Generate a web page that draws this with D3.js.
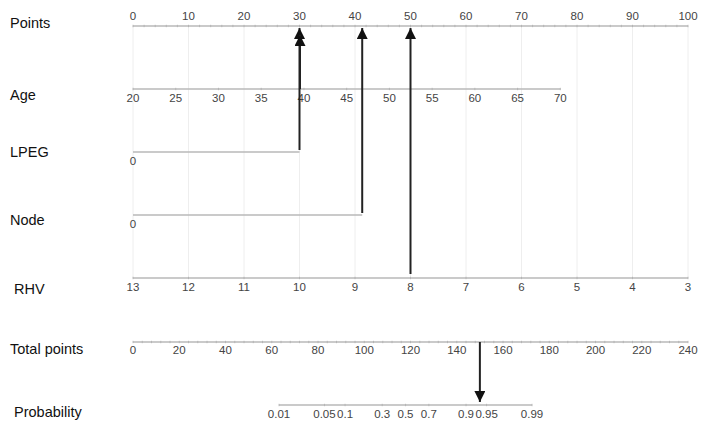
<!DOCTYPE html>
<html><head><meta charset="utf-8">
<script src="https://cdn.jsdelivr.net/npm/d3@7"></script>
<style>body{margin:0;background:#fff}svg{display:block}text{font-family:"Liberation Sans",Arial,sans-serif}</style>
</head><body><svg id="c" width="708" height="429"></svg>
<script>
// ---- data ----
const rowLabels = ["Points","Age","LPEG","Node","RHV","Total points","Probability"];
const pointsTicks = [0,10,20,30,40,50,60,70,80,90,100];
const ageTicks = [20,25,30,35,40,45,50,55,60,65,70];
const ageDomain = [20,70];
const agePointsRange = [0,77];
const lpegDomain = [0,1];
const lpegPointsRange = [0,30];
const lpegLabels = [0];
const nodeDomain = [0,1];
const nodePointsRange = [0,41.3];
const nodeLabels = [0];
const rhvTicks = [13,12,11,10,9,8,7,6,5,4,3];
const rhvDomain = [13,3];
const rhvPointsRange = [0,100];
const totalTicks = [0,20,40,60,80,100,120,140,160,180,200,220,240];
const probTicks = [0.01,0.05,0.1,0.3,0.5,0.7,0.9,0.95,0.99];
const probLabels = ["0.01","0.05","0.1","0.3","0.5","0.7","0.9","0.95","0.99"];
const logitIntercept = -9.9;   // logit(p) = a + b * totalPoints
const logitSlope = 0.084;
// example patient
const patientAge = 40, patientLPEG = 1, patientNode = 1, patientRHV = 8;
const patientTotal = 150;

// ---- layout ----
const svg = d3.select("#c");
const x = d3.scaleLinear().domain([0,100]).range([133,688]);
const ageX = d3.scaleLinear().domain(ageDomain).range(agePointsRange.map(x));
const lpegX = d3.scaleLinear().domain(lpegDomain).range(lpegPointsRange.map(x));
const nodeX = d3.scaleLinear().domain(nodeDomain).range(nodePointsRange.map(x));
const rhvX = d3.scaleLinear().domain(rhvDomain).range(rhvPointsRange.map(x));
const totX = d3.scaleLinear().domain([0,240]).range([133,688]);
const probX = p => totX((Math.log(p/(1-p)) - logitIntercept)/logitSlope);

const rowY = {Points:26, Age:89, LPEG:152, Node:215, RHV:278, Total:342, Prob:405};
const labelY = [24,96,153,221,290,350,413];
const labelX = [10,10,10,10,14,10,14];
const axisCol = "#b8b8b8", tickTextCol = "#444";

// gridlines
svg.append("g").selectAll("line").data(pointsTicks).join("line")
  .attr("x1",d=>x(d)).attr("x2",d=>x(d)).attr("y1",rowY.Points).attr("y2",rowY.RHV)
  .attr("stroke","#eeeeee").attr("stroke-width",1);

// row labels
svg.append("g").selectAll("text").data(rowLabels).join("text")
  .attr("x",(d,i)=>labelX[i]).attr("y",(d,i)=>labelY[i]).attr("dominant-baseline","middle")
  .attr("font-size",14.5).attr("fill","#111").text(d=>d);

function hline(x1,x2,y){
  svg.append("line").attr("x1",x1).attr("x2",x2).attr("y1",y).attr("y2",y)
    .attr("stroke",axisCol).attr("stroke-width",1.3);
}
function ticks(vals,sc,y,len){
  svg.append("g").selectAll("line").data(vals).join("line")
    .attr("x1",d=>sc(d)).attr("x2",d=>sc(d)).attr("y1",y-len).attr("y2",y+len)
    .attr("stroke","#b0b0b0").attr("stroke-width",0.8);
}
function labels(vals,sc,y,txt){
  svg.append("g").selectAll("text").data(vals).join("text")
    .attr("x",d=>sc(d)).attr("y",y).attr("text-anchor","middle").attr("dominant-baseline","middle")
    .attr("font-size",11.5).attr("fill",tickTextCol).text((d,i)=>txt?txt[i]:d);
}

// Points
hline(x(0),x(100),rowY.Points);
ticks(d3.range(0,101,2),x,rowY.Points,1.2);
labels(pointsTicks,x,17);
// Age
hline(ageX(20),ageX(70),rowY.Age);
ticks(ageTicks,ageX,rowY.Age,1.2);
labels(ageTicks,ageX,99);
// LPEG
hline(lpegX(0),lpegX(1),rowY.LPEG);
labels(lpegLabels,lpegX,162);
// Node
hline(nodeX(0),nodeX(1),rowY.Node);
labels(nodeLabels,nodeX,225);
// RHV
hline(rhvX(13),rhvX(3),rowY.RHV);
ticks(rhvTicks,rhvX,rowY.RHV,1.2);
labels(rhvTicks,rhvX,288);
// Total points
hline(totX(0),totX(240),rowY.Total);
ticks(d3.range(0,241,4),totX,rowY.Total,1.2);
labels(totalTicks,totX,351);
// Probability
hline(probX(0.01),probX(0.99),rowY.Prob);
ticks(probTicks,probX,rowY.Prob,1.2);
labels(probTicks,probX,415,probLabels);

// arrows
const defs = svg.append("defs");
defs.append("marker").attr("id","ah").attr("viewBox","0 0 10 10").attr("refX",10).attr("refY",5)
  .attr("markerWidth",5.5).attr("markerHeight",5.5).attr("markerUnits","strokeWidth").attr("orient","auto")
  .append("path").attr("d","M0,0 L10,5 L0,10 Z").attr("fill","#111");
function arrow(xp,y1,y2){
  svg.append("line").attr("x1",xp).attr("x2",xp).attr("y1",y1).attr("y2",y2)
    .attr("stroke","#222").attr("stroke-width",2).attr("marker-end","url(#ah)");
}
arrow(lpegX(patientLPEG), rowY.LPEG-2, 28);
arrow(lpegX(patientLPEG)+0.5, rowY.Age, 35);
arrow(nodeX(patientNode), rowY.Node-2, 28);
arrow(rhvX(patientRHV), rowY.RHV-4, 28);
arrow(totX(patientTotal), rowY.Total, 402);
</script></body></html>
